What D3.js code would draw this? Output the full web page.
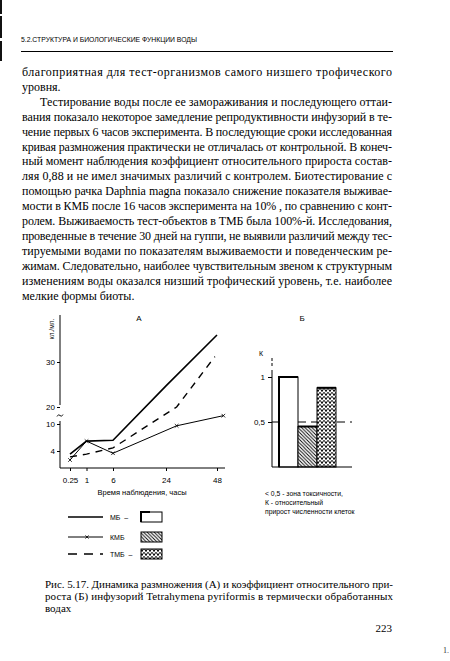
<!DOCTYPE html>
<html>
<head>
<meta charset="utf-8">
<script src="https://cdn.jsdelivr.net/npm/d3@7"></script>
<style>
body { margin: 0; background: #fff; }
svg { display: block; }
</style>
</head>
<body>
<div id="page"></div>
<script>
// dados do grafico A - time points and cells per ml
var times = [0.25, 1, 6, 24, 48];
var timeLabels = ['0.25', '1', '6', '24', '48'];
var mbTimes = [0.25, 1, 6, 24, 48];
var mbValues = [3.3, 6.2, 6.4, 24.7, 36];
var kmbTimes = [0.25, 1, 6, 29, 51];
var kmbValues = [2.0, 6.2, 3.5, 9.6, 14.9];
var tmbTimes = [0.25, 1, 6, 29, 47];
var tmbValues = [2.7, 3.3, 4.7, 20, 31.2];
var yTicksA = [4, 10, 20, 30];

// grafico B - relative growth K
var groups = ['МБ', 'КМБ', 'ТМБ'];
var kValues = [1.0, 0.45, 0.88];
var yTicksB = [0.5, 1];
var yTickLabelsB = ['0,5', '1'];
var toxicLimit = 0.5;

// page text
var header = '5.2.СТРУКТУРА И БИОЛОГИЧЕСКИЕ ФУНКЦИИ ВОДЫ';
var bodyLines = [
    'благоприятная для тест-организмов самого низшего трофического',
    'уровня.',
    'Тестирование воды после ее замораживания и последующего оттаи-',
    'вания показало некоторое замедление репродуктивности инфузорий в те-',
    'чение первых 6 часов эксперимента. В последующие сроки исследованная',
    'кривая размножения практически не отличалась от контрольной. В конеч-',
    'ный момент наблюдения коэффициент относительного прироста состав-',
    'ляя 0,88 и не имел значимых различий с контролем. Биотестирование с',
    'помощью рачка Daphnia magna показало снижение показателя выживае-',
    'мости в КМБ после 16 часов эксперимента на 10% , по сравнению с конт-',
    'ролем. Выживаемость тест-объектов в ТМБ была 100%-й. Исследования,',
    'проведенные в течение 30 дней на гуппи, не выявили различий между тес-',
    'тируемыми водами по показателям выживаемости и поведенческим ре-',
    'жимам. Следовательно, наиболее чувствительным звеном к структурным',
    'изменениям воды оказался низший трофический уровень, т.е. наиболее',
    'мелкие формы биоты.'];
var captionLines = [
    'Рис. 5.17. Динамика размножения (А) и коэффициент относительного при-',
    'роста (Б) инфузорий Tetrahymena pyriformis в термически обработанных',
    'водах'];
var noteLines = ['< 0,5 - зона токсичности,', 'К - относительный', 'прирост численности клеток'];

var sans = 'Liberation Sans, Arial, sans-serif';
var serif = 'Liberation Serif, Times New Roman, serif';

var svg = d3
.select('#page')
.append('svg')
.attr('width', 450)
.attr('height', 661)
;

svg.append('rect')
.attr('width', 450)
.attr('height', 661)
.attr('fill', '#fff')
;

// borda escura do scan - dark scan edge
svg.append('line')
.attr('x1', 1).attr('x2', 1)
.attr('y1', 0).attr('y2', 64)
.attr('stroke', '#111')
.attr('stroke-width', 2)
.attr('stroke-dasharray', '14,2,22,3,20')
;

// header + rule
svg.append('text')
.text(header)
.attr('x', 21)
.attr('y', 42)
.attr('font-family', sans)
.attr('font-size', 6.5)
.attr('textLength', 176)
.attr('lengthAdjust', 'spacingAndGlyphs')
;

svg.append('line')
.attr('x1', 21).attr('x2', 393)
.attr('y1', 51.5).attr('y2', 51.5)
.attr('stroke', '#000')
.attr('stroke-width', 1)
;

// body text, justified
var paraEnd = [1, 15];
var indented = [2];
svg.selectAll('.body')
.data(bodyLines)
.enter()
.append('text')
.attr('class', 'body')
.text(function(d){return d;})
.attr('x', function(d, i){return indented.indexOf(i) >= 0 ? 40 : 22;})
.attr('y', function(d, i){return 76 + i * 14.9;})
.attr('font-family', serif)
.attr('font-size', 12)
.each(function(d, i){
    if (paraEnd.indexOf(i) < 0) {
        d3.select(this)
        .attr('textLength', indented.indexOf(i) >= 0 ? 352 : 370)
        .attr('lengthAdjust', 'spacing');
    }
})
;

// ---------- grafico A ----------
var A = {left: 60, right: 225, top: 315, bottom: 468};

var xA = d3.scaleLinear()
.domain(times)
.range([70, 86.5, 113, 166, 217])
;

// broken axis: 10..20 squeezed
var yA = d3.scaleLinear()
.domain([0, 10, 20, 40])
.range([469, 424, 407, 317])
;

var gA = svg.append('g');

var xAxisA = gA.append('g')
.attr('transform', 'translate(0,' + A.bottom + ')')
.call(d3.axisBottom(xA)
    .tickValues(times)
    .tickFormat(function(d, i){return timeLabels[i];})
    .tickSize(3)
    .tickPadding(6))
;
xAxisA.select('.domain').remove();
xAxisA.attr('font-family', sans).attr('font-size', 8);

gA.append('line')
.attr('x1', A.left).attr('x2', A.right)
.attr('y1', A.bottom).attr('y2', A.bottom)
.attr('stroke', '#000')
;

var yAxisA = gA.append('g')
.attr('transform', 'translate(' + A.left + ',0)')
.call(d3.axisLeft(yA)
    .tickValues(yTicksA)
    .tickSize(3)
    .tickPadding(2))
;
yAxisA.select('.domain').remove();
yAxisA.attr('font-family', sans).attr('font-size', 8);

// two pieces of the y axis with the break mark
gA.append('line')
.attr('x1', A.left).attr('x2', A.left)
.attr('y1', A.top).attr('y2', yA(20) - 2)
.attr('stroke', '#000')
;
gA.append('line')
.attr('x1', A.left).attr('x2', A.left)
.attr('y1', yA(10) - 3).attr('y2', A.bottom)
.attr('stroke', '#000')
;
var breakY = (yA(10) + yA(20)) / 2;
gA.append('path')
.attr('d', 'M' + (A.left - 3) + ',' + (breakY + 1) +
    ' q1.5,-3 3,-1 t3,-1')
.attr('fill', 'none')
.attr('stroke', '#000')
.attr('stroke-width', 0.9)
;

gA.append('text')
.text('кл./мл.')
.attr('transform', 'translate(' + (A.left - 6) + ',' + (A.top + 14) + ') rotate(-90)')
.attr('text-anchor', 'middle')
.attr('font-family', sans)
.attr('font-size', 6.5)
;

gA.append('text')
.text('А')
.attr('x', 139)
.attr('y', 321)
.attr('text-anchor', 'middle')
.attr('font-family', sans)
.attr('font-size', 8)
;

gA.append('text')
.text('Время наблюдения, часы')
.attr('x', 142)
.attr('y', 495)
.attr('text-anchor', 'middle')
.attr('font-family', sans)
.attr('font-size', 7.5)
;

function toPoints(ts, vs) {
    return ts.map(function(t, i){return {t: t, v: vs[i]};});
}

var series = [
    {name: 'МБ', pts: toPoints(mbTimes, mbValues), width: 1.6, dash: null, marker: false},
    {name: 'КМБ', pts: toPoints(kmbTimes, kmbValues), width: 1, dash: null, marker: true},
    {name: 'ТМБ', pts: toPoints(tmbTimes, tmbValues), width: 1.4, dash: '7,6', marker: false}
];

var lineA = d3.line()
.x(function(d){return xA(d.t);})
.y(function(d){return yA(d.v);})
;

gA.selectAll('.serie')
.data(series)
.enter()
.append('path')
.attr('class', 'serie')
.attr('d', function(d){return lineA(d.pts);})
.attr('fill', 'none')
.attr('stroke', '#000')
.attr('stroke-width', function(d){return d.width;})
.attr('stroke-dasharray', function(d){return d.dash;})
;

function crossPath(x, y, s) {
    return 'M' + (x - s) + ',' + (y - s) + 'L' + (x + s) + ',' + (y + s) +
        'M' + (x - s) + ',' + (y + s) + 'L' + (x + s) + ',' + (y - s);
}

gA.selectAll('.mark')
.data(series[1].pts)
.enter()
.append('path')
.attr('class', 'mark')
.attr('d', function(d){return crossPath(xA(d.t), yA(d.v), 1.8);})
.attr('stroke', '#000')
.attr('stroke-width', 0.8)
;

// ---------- grafico B ----------
var defs = svg.append('defs');

defs.append('pattern')
.attr('id', 'hatch')
.attr('patternUnits', 'userSpaceOnUse')
.attr('width', 3.5)
.attr('height', 3.5)
.call(function(p){
    p.append('rect').attr('width', 3.5).attr('height', 3.5).attr('fill', '#fff');
    p.append('path')
    .attr('d', 'M-1,-1L4.5,4.5M-1,2.5L1,4.5M2.5,-1L4.5,1')
    .attr('stroke', '#000')
    .attr('stroke-width', 0.9);
})
;

defs.append('pattern')
.attr('id', 'vees')
.attr('patternUnits', 'userSpaceOnUse')
.attr('width', 4)
.attr('height', 4)
.call(function(p){
    p.append('rect').attr('width', 4).attr('height', 4).attr('fill', '#fff');
    p.append('path')
    .attr('d', 'M0.3,0.3L2,3.6L3.7,0.3')
    .attr('fill', 'none')
    .attr('stroke', '#000')
    .attr('stroke-width', 1);
})
;

var fills = ['#fff', 'url(#hatch)', 'url(#vees)'];

var B = {left: 272, right: 352, top: 358, bottom: 467};

var yB = d3.scaleLinear()
.domain([0, 1])
.range([B.bottom, 377])
;

var xB = d3.scaleBand()
.domain(groups)
.range([279, 336])
.padding(0)
;

var gB = svg.append('g');

// 0,5 toxicity level, behind the bars
gB.append('line')
.attr('x1', B.left).attr('x2', B.right)
.attr('y1', yB(toxicLimit)).attr('y2', yB(toxicLimit))
.attr('stroke', '#000')
.attr('stroke-width', 1)
.attr('stroke-dasharray', '8,5')
;

gB.selectAll('.bar')
.data(groups)
.enter()
.append('rect')
.attr('class', 'bar')
.attr('x', function(d){return xB(d);})
.attr('y', function(d, i){return yB(kValues[i]);})
.attr('width', xB.bandwidth())
.attr('height', function(d, i){return yB(0) - yB(kValues[i]);})
.attr('fill', function(d, i){return fills[i];})
.attr('stroke', '#000')
.attr('stroke-width', 1)
;

// thicker top edge on bars, thick left on МБ
gB.selectAll('.bartop')
.data(groups)
.enter()
.append('path')
.attr('class', 'bartop')
.attr('d', function(d, i){
    var x0 = xB(d), y0 = yB(kValues[i]);
    if (i === 0) {
        return 'M' + x0 + ',' + yB(0) + 'L' + x0 + ',' + y0 + 'L' + (x0 + xB.bandwidth()) + ',' + y0;
    }
    return 'M' + x0 + ',' + y0 + 'L' + (x0 + xB.bandwidth()) + ',' + y0;
})
.attr('fill', 'none')
.attr('stroke', '#000')
.attr('stroke-width', 2)
;

var yAxisB = gB.append('g')
.attr('transform', 'translate(' + B.left + ',0)')
.call(d3.axisLeft(yB)
    .tickValues(yTicksB)
    .tickFormat(function(d, i){return yTickLabelsB[i];})
    .tickSize(4)
    .tickPadding(3))
;
yAxisB.select('.domain').remove();
yAxisB.attr('font-family', sans).attr('font-size', 8);

gB.append('line')
.attr('x1', B.left).attr('x2', B.left)
.attr('y1', 370).attr('y2', B.bottom)
.attr('stroke', '#000')
;
gB.append('line')
.attr('x1', B.left).attr('x2', B.left)
.attr('y1', B.top).attr('y2', 368)
.attr('stroke', '#000')
.attr('stroke-dasharray', '3,2')
;
gB.append('line')
.attr('x1', B.left).attr('x2', B.right)
.attr('y1', B.bottom).attr('y2', B.bottom)
.attr('stroke', '#000')
;

gB.append('text')
.text('К')
.attr('x', 261)
.attr('y', 356)
.attr('text-anchor', 'middle')
.attr('font-family', sans)
.attr('font-size', 7)
;

gB.append('text')
.text('Б')
.attr('x', 302)
.attr('y', 321)
.attr('text-anchor', 'middle')
.attr('font-family', sans)
.attr('font-size', 8)
;

gB.selectAll('.note')
.data(noteLines)
.enter()
.append('text')
.attr('class', 'note')
.text(function(d){return d;})
.attr('x', 265)
.attr('y', function(d, i){return 495.5 + i * 9;})
.attr('font-family', sans)
.attr('font-size', 6.8)
;

// ---------- legenda ----------
var legendY = [517, 537, 554];
var leg = svg.append('g');

leg.selectAll('.legline')
.data(series)
.enter()
.append('line')
.attr('class', 'legline')
.attr('x1', 68).attr('x2', 103)
.attr('y1', function(d, i){return legendY[i];})
.attr('y2', function(d, i){return legendY[i];})
.attr('stroke', '#000')
.attr('stroke-width', function(d){return d.width;})
.attr('stroke-dasharray', function(d){return d.dash ? '9,7' : null;})
;

leg.append('path')
.attr('d', crossPath(87, legendY[1], 1.6))
.attr('stroke', '#000')
.attr('stroke-width', 0.8)
;

leg.selectAll('.legtext')
.data(groups)
.enter()
.append('text')
.attr('class', 'legtext')
.text(function(d){return d + (d === 'КМБ' ? '' : '  –');})
.attr('x', 110)
.attr('y', function(d, i){return legendY[i] + 2.5;})
.attr('font-family', sans)
.attr('font-size', 7)
.attr('xml:space', 'preserve')
.style('white-space', 'pre')
;

leg.selectAll('.legbox')
.data(groups)
.enter()
.append('rect')
.attr('class', 'legbox')
.attr('x', 141)
.attr('y', function(d, i){return legendY[i] - 5;})
.attr('width', 21)
.attr('height', 10)
.attr('fill', function(d, i){return fills[i];})
.attr('stroke', '#000')
.attr('stroke-width', 1)
;

leg.append('path')
.attr('d', 'M141,' + (legendY[0] + 5) + 'V' + (legendY[0] - 5) + 'H150')
.attr('fill', 'none')
.attr('stroke', '#000')
.attr('stroke-width', 2)
;

// caption
svg.selectAll('.cap')
.data(captionLines)
.enter()
.append('text')
.attr('class', 'cap')
.text(function(d){return d;})
.attr('x', 45)
.attr('y', function(d, i){return 588 + i * 12;})
.attr('font-family', serif)
.attr('font-size', 11)
.each(function(d, i){
    if (i < captionLines.length - 1) {
        d3.select(this).attr('textLength', 348).attr('lengthAdjust', 'spacing');
    }
})
;

svg.append('text')
.text('223')
.attr('x', 392)
.attr('y', 632)
.attr('text-anchor', 'end')
.attr('font-family', serif)
.attr('font-size', 11)
;

svg.append('text')
.text('1.')
.attr('x', 443)
.attr('y', 653)
.attr('font-family', serif)
.attr('font-size', 8)
.attr('fill', '#333')
;
</script>
</body>
</html>
